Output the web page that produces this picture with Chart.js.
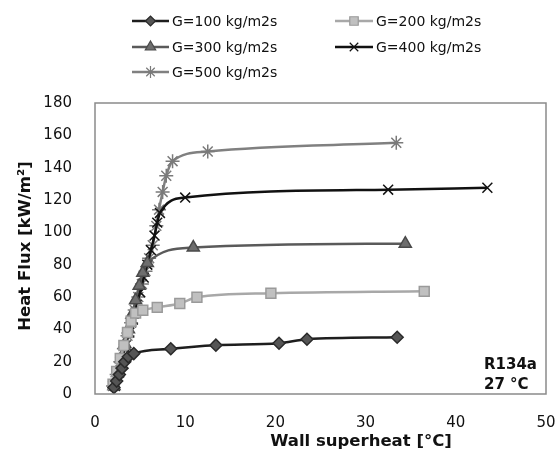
<!DOCTYPE html>
<html>
<head>
<meta charset="utf-8">
<script src="https://cdn.jsdelivr.net/npm/chart.js@4/dist/chart.umd.min.js"></script>
<style>
html,body{margin:0;padding:0;background:#fff;}
#wrap{position:relative;width:558px;height:459px;}
</style>
</head>
<body>
<div id="wrap"><canvas id="c" width="558" height="459"></canvas></div>
<script>
// ---- data ----
const seriesNames = ["G=100 kg/m2s","G=200 kg/m2s","G=300 kg/m2s","G=400 kg/m2s","G=500 kg/m2s"];
const g100x = [2.1,2.4,2.7,3.0,3.3,3.7,4.3,8.4,13.4,20.4,23.5,33.5];
const g100y = [4,8,12,16,20,23,25,28,30.2,31.4,33.9,35.1];
const g200x = [2.0,2.4,2.8,3.2,3.6,4.0,4.5,5.3,6.9,9.4,11.3,19.5,36.5];
const g200y = [6,14,22,30,38,45,50,51.8,53.6,56,59.8,62.3,63.5];
const g300x = [2.1,2.5,2.9,3.3,3.7,4.1,4.5,4.9,5.3,5.8,10.9,34.4];
const g300y = [5,13,22,31,40,49,58,67,75,81,90.6,93];
const g400x = [2.2,2.6,3.0,3.4,3.8,4.2,4.6,5.0,5.4,5.8,6.2,6.6,6.9,7.2,10.0,32.5,43.5];
const g400y = [5,13,22,30,38,46,55,63,72,80,89,98,106,112,121.5,126.4,127.6];
const g500x = [2.0,2.4,2.8,3.2,3.6,4.0,4.4,4.8,5.2,5.6,6.0,6.4,6.8,7.1,7.5,7.9,8.6,12.5,33.4];
const g500y = [5,12,20,28,36,44,52,60,68,76,84,92,104,114,125,135,144,150,155.4];
const xTicks = [0,10,20,30,40,50];
const yTicks = [0,20,40,60,80,100,120,140,160,180];
const xTitle = "Wall superheat [°C]";
const yTitle = "Heat Flux [kW/m²]";
const noteLines = ["R134a","27 °C"];

function pts(xs, ys){ return xs.map((x,i)=>({x:x,y:ys[i]})); }

const styles = [
  {line:"#1e1e1e", fill:"#555555", edge:"#2a2a2a", shape:"rectRot", r:6},
  {line:"#a8a8a8", fill:"#c0c0c0", edge:"#9a9a9a", shape:"rect", r:7},
  {line:"#5a5a5a", fill:"#6e6e6e", edge:"#4a4a4a", shape:"triangle", r:7},
  {line:"#111111", fill:"#111111", edge:"#111111", shape:"crossRot", r:7},
  {line:"#808080", fill:"#808080", edge:"#7a7a7a", shape:"star", r:7}
];
const xs = [g100x,g200x,g300x,g400x,g500x];
const ys = [g100y,g200y,g300y,g400y,g500y];

const datasets = seriesNames.map((n,i)=>({
  label:n,
  data:pts(xs[i],ys[i]),
  showLine:true,
  borderColor:styles[i].line,
  borderWidth:2.5,
  cubicInterpolationMode:'monotone',
  pointStyle:styles[i].shape,
  pointRadius:styles[i].r,
  pointBackgroundColor:styles[i].fill,
  pointBorderColor:styles[i].edge,
  pointBorderWidth:1.5,
  pointHoverRadius:styles[i].r
}));

const FONT = "'DejaVu Sans', sans-serif";

const deco = {
  id:'deco',
  afterDraw(chart){
    const ctx = chart.ctx, a = chart.chartArea;
    ctx.save();
    // plot border
    ctx.strokeStyle = "#8a8a8a"; ctx.lineWidth = 1.5;
    ctx.strokeRect(a.left, a.top, a.right-a.left, a.bottom-a.top);
    // legend
    const cols = [{l:132,r:169,t:172},{l:335,r:373,t:376}];
    const rows = [21,47,72];
    ctx.font = "14px " + FONT;
    ctx.textBaseline = "middle"; ctx.textAlign = "left";
    seriesNames.forEach((n,i)=>{
      const c = cols[i%2], y = rows[Math.floor(i/2)];
      const s = styles[i];
      ctx.strokeStyle = s.line; ctx.lineWidth = 2.5;
      ctx.beginPath(); ctx.moveTo(c.l,y); ctx.lineTo(c.r,y); ctx.stroke();
      ctx.fillStyle = s.fill; ctx.strokeStyle = s.edge; ctx.lineWidth = 1.2;
      Chart.helpers.drawPoint(ctx, {pointStyle:s.shape, radius:s.r-1, borderWidth:1.2}, (c.l+c.r)/2, y);
      ctx.fillStyle = "#111";
      ctx.fillText(n, c.t, y+1);
    });
    // note
    ctx.font = "bold 15px " + FONT;
    ctx.fillStyle = "#111";
    ctx.fillText(noteLines[0], 484, 365);
    ctx.fillText(noteLines[1], 484, 385);
    // axis titles
    ctx.font = "bold 16.5px " + FONT;
    ctx.textAlign = "center";
    ctx.fillText(xTitle, 361, 442);
    ctx.translate(26, 246);
    ctx.rotate(-Math.PI/2);
    ctx.fillText(yTitle, 0, 0);
    ctx.restore();
  }
};

new Chart(document.getElementById('c'), {
  type:'scatter',
  data:{datasets:datasets},
  options:{
    responsive:false,
    animation:false,
    layout:{padding:{top:103,right:12,left:0,bottom:0}},
    plugins:{legend:{display:false}, tooltip:{enabled:false}},
    scales:{
      x:{
        type:'linear', min:0, max:50,
        afterBuildTicks(s){ s.ticks = xTicks.map(v=>({value:v})); },
        afterFit(s){ s.height = 65; s.paddingLeft = 0; s.paddingRight = 0; },
        grid:{display:false},
        border:{display:false},
        ticks:{font:{family:FONT,size:15}, color:"#111", padding:12, maxRotation:0}
      },
      y:{
        type:'linear', min:0, max:180,
        afterBuildTicks(s){ s.ticks = yTicks.map(v=>({value:v})); },
        afterFit(s){ s.width = 95; s.paddingTop = 0; s.paddingBottom = 0; },
        grid:{display:false},
        border:{display:false},
        ticks:{font:{family:FONT,size:15}, color:"#111", padding:15}
      }
    }
  },
  plugins:[deco]
});
</script>
</body>
</html>
